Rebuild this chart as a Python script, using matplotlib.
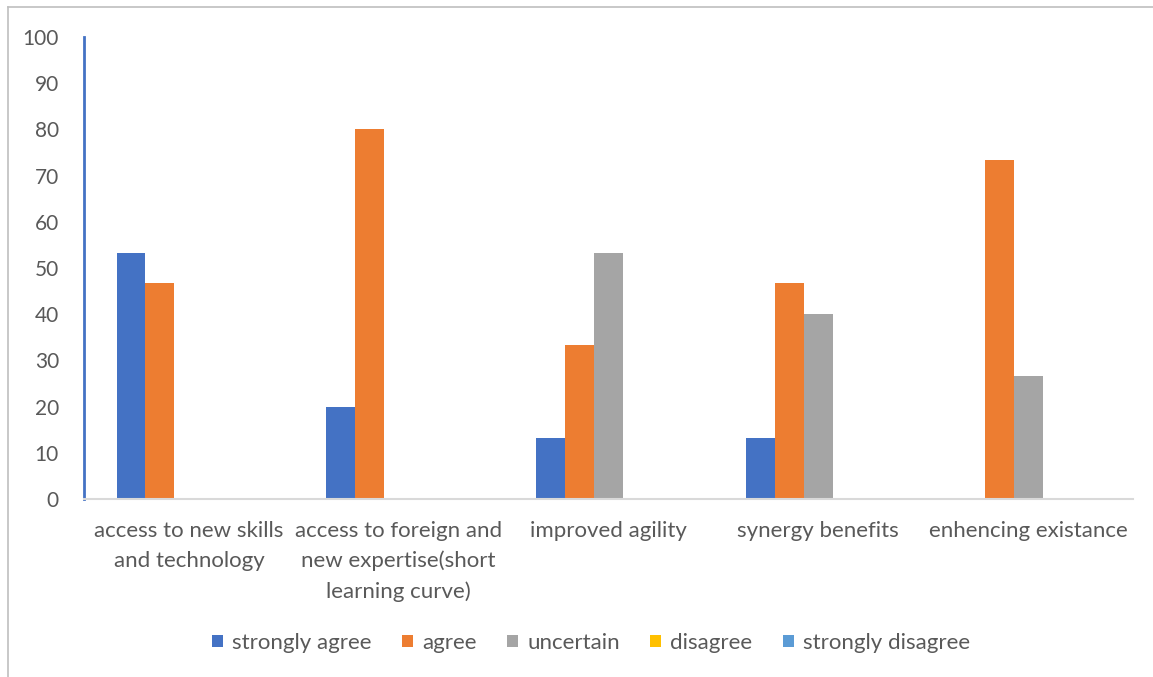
import matplotlib
matplotlib.use("Agg")
import matplotlib.pyplot as plt
from matplotlib.lines import Line2D
from matplotlib.patches import Patch
import numpy as np

categories = [
    "access to new skills\nand technology",
    "access to foreign and\nnew expertise(short\nlearning curve)",
    "improved agility",
    "synergy benefits",
    "enhencing existance",
]
series_names = ["strongly agree", "agree", "uncertain", "disagree", "strongly disagree"]
strongly_agree = [53.3, 20.0, 13.3, 13.3, 0.0]
agree = [46.7, 80.0, 33.3, 46.7, 73.3]
uncertain = [0.0, 0.0, 53.3, 40.0, 26.7]
disagree = [0.0, 0.0, 0.0, 0.0, 0.0]
strongly_disagree = [0.0, 0.0, 0.0, 0.0, 0.0]
yticks = list(range(0, 101, 10))

colors = ["#4472C4", "#ED7D31", "#A5A5A5", "#FFC000", "#5B9BD5"]
text_color = "#595959"
plt.rcParams["font.family"] = ["Lato", "DejaVu Sans"]

W, H = 1153, 677
fig = plt.figure(figsize=(W / 100, H / 100), dpi=100)
ax_left, ax_right, ax_top, ax_bottom = 84, 1133, 37, 499
ax = fig.add_axes([ax_left / W, 1 - ax_bottom / H,
                   (ax_right - ax_left) / W, (ax_bottom - ax_top) / H])

x = np.arange(len(categories))
values = [strongly_agree, agree, uncertain, disagree, strongly_disagree]
bw = 0.138
for i, (vals, col) in enumerate(zip(values, colors)):
    ax.bar(x + (i - 2) * bw, vals, width=bw, color=col, edgecolor="none", zorder=2)

ax.set_xlim(-0.5, len(categories) - 0.5)
ax.set_ylim(0, 100)
ax.set_yticks(yticks)
ax.set_yticklabels([str(t) for t in yticks], fontsize=15, color=text_color)
ax.set_xticks(x)
ax.set_xticklabels(categories, fontsize=16, color=text_color, linespacing=1.58)
ax.tick_params(axis="both", length=0)
ax.tick_params(axis="y", pad=18)
ax.tick_params(axis="x", pad=16)

for s in ["top", "right"]:
    ax.spines[s].set_visible(False)
ax.spines["left"].set_color("#4472C4")
ax.spines["left"].set_linewidth(2)
ax.spines["bottom"].set_color("#D9D9D9")
ax.spines["bottom"].set_linewidth(1.5)

handles = [Patch(facecolor=c, edgecolor="none") for c in colors]
fig.legend(handles, series_names, loc="center", bbox_to_anchor=(591 / W, 1 - 643 / H),
           ncol=5, frameon=False, fontsize=16, handlelength=0.5, handleheight=0.5,
           handletextpad=0.4, columnspacing=1.37, labelcolor=text_color)

# outer chart frame (top and left edges)
fig.add_artist(Line2D([8 / W, 8 / W], [0, 1 - 7 / H], color="#BFBFBF", lw=1.2,
                      transform=fig.transFigure))
fig.add_artist(Line2D([8 / W, 1], [1 - 7 / H, 1 - 7 / H], color="#BFBFBF", lw=1.2,
                      transform=fig.transFigure))

fig.savefig("out.png", dpi=100)
